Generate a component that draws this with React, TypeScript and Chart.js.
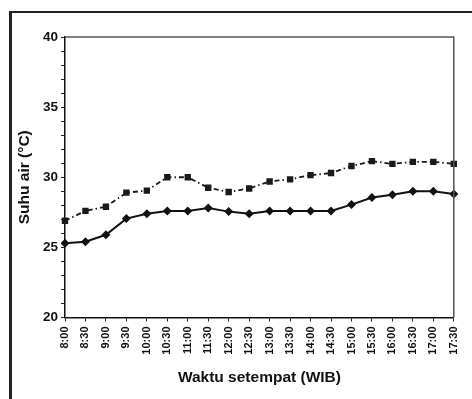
import React, { useEffect, useRef } from "react";
import { Chart, registerables } from "chart.js";

Chart.register(...registerables);

const times = [
  "8:00", "8:30", "9:00", "9:30", "10:00", "10:30", "11:00", "11:30", "12:00", "12:30",
  "13:00", "13:30", "14:00", "14:30", "15:00", "15:30", "16:00", "16:30", "17:00", "17:30",
];

const upperSeries = [
  26.9, 27.6, 27.9, 28.9, 29.05, 30.0, 30.0, 29.25, 28.95, 29.2,
  29.7, 29.85, 30.15, 30.3, 30.8, 31.15, 30.95, 31.1, 31.1, 30.95,
];

const lowerSeries = [
  25.3, 25.4, 25.9, 27.05, 27.4, 27.6, 27.6, 27.8, 27.55, 27.4,
  27.6, 27.6, 27.6, 27.6, 28.05, 28.55, 28.75, 29.0, 29.0, 28.8,
];

const yMin = 20;
const yMax = 40;
const yLabelStep = 5;

const xTitle = "Waktu setempat (WIB)";
const yTitle = "Suhu air (°C)";

const FONT = "'Liberation Sans', Arial, sans-serif";

export default function App() {
  const ref = useRef<HTMLCanvasElement | null>(null);

  useEffect(() => {
    if (!ref.current) return;
    const framePlugin = {
      id: "frame",
      afterDraw(chart: any) {
        const { ctx, chartArea } = chart;
        ctx.save();
        // outer figure frame
        ctx.strokeStyle = "#222";
        ctx.lineWidth = 3;
        ctx.beginPath();
        ctx.moveTo(10.5, 400);
        ctx.lineTo(10.5, 11);
        ctx.stroke();
        ctx.lineWidth = 2;
        ctx.beginPath();
        ctx.moveTo(9, 12);
        ctx.lineTo(480, 12);
        ctx.stroke();
        // plot box top and right
        ctx.strokeStyle = "#555";
        ctx.lineWidth = 1.5;
        ctx.beginPath();
        ctx.moveTo(chartArea.left, chartArea.top);
        ctx.lineTo(chartArea.right, chartArea.top);
        ctx.lineTo(chartArea.right, chartArea.bottom);
        ctx.stroke();
        ctx.restore();
      },
    };

    const chart = new Chart(ref.current, {
      type: "line",
      data: {
        labels: times,
        datasets: [
          {
            label: "Atas",
            data: upperSeries,
            borderColor: "#1a1a1a",
            backgroundColor: "#1a1a1a",
            borderWidth: 1.8,
            borderDash: [5, 3, 1.5, 3],
            pointStyle: "rect",
            pointRadius: 4.5,
            pointBorderWidth: 0,
            tension: 0,
          },
          {
            label: "Bawah",
            data: lowerSeries,
            borderColor: "#111",
            backgroundColor: "#111",
            borderWidth: 2,
            pointStyle: "rectRot",
            pointRadius: 4.5,
            pointBorderWidth: 0,
            tension: 0,
          },
        ],
      },
      options: {
        animation: false,
        responsive: true,
        maintainAspectRatio: false,
        layout: { padding: { left: 11, top: 37, right: 9, bottom: 8 } },
        plugins: {
          legend: { display: false },
          tooltip: { enabled: false },
        },
        scales: {
          x: {
            offset: false,
            afterFit: (s: any) => {
              s.height = 73.5;
            },
            grid: {
              drawOnChartArea: false,
              drawTicks: true,
              tickLength: 4,
              color: "#222",
              lineWidth: 1,
            },
            border: { display: true, color: "#111", width: 1.5 },
            ticks: {
              autoSkip: false,
              minRotation: 90,
              maxRotation: 90,
              padding: 5,
              color: "#111",
              font: { family: FONT, size: 11, weight: "bold" },
            },
            title: {
              display: true,
              text: xTitle,
              color: "#111",
              padding: { top: 4, bottom: 4 },
              font: { family: FONT, size: 15.5, weight: "bold" },
            },
          },
          y: {
            min: yMin,
            max: yMax,
            afterFit: (s: any) => {
              s.width = 54;
            },
            grid: {
              drawOnChartArea: false,
              drawTicks: true,
              tickLength: 4,
              color: "#222",
              lineWidth: 1,
            },
            border: { display: true, color: "#111", width: 1.5 },
            ticks: {
              stepSize: 1,
              autoSkip: false,
              padding: 3,
              color: "#111",
              font: { family: FONT, size: 13.5, weight: "bold" },
              callback: (v: any) => (Number(v) % yLabelStep === 0 ? String(v) : ""),
            },
            title: {
              display: true,
              text: yTitle,
              color: "#111",
              padding: { top: 4, bottom: 4 },
              font: { family: FONT, size: 15.5, weight: "bold" },
            },
          },
        },
      },
      plugins: [framePlugin],
    });
    return () => chart.destroy();
  }, []);

  return (
    <div
      style={{
        position: "fixed",
        left: 0,
        top: 0,
        width: 472,
        height: 399,
        background: "#fff",
      }}
    >
      <canvas ref={ref} />
    </div>
  );
}
